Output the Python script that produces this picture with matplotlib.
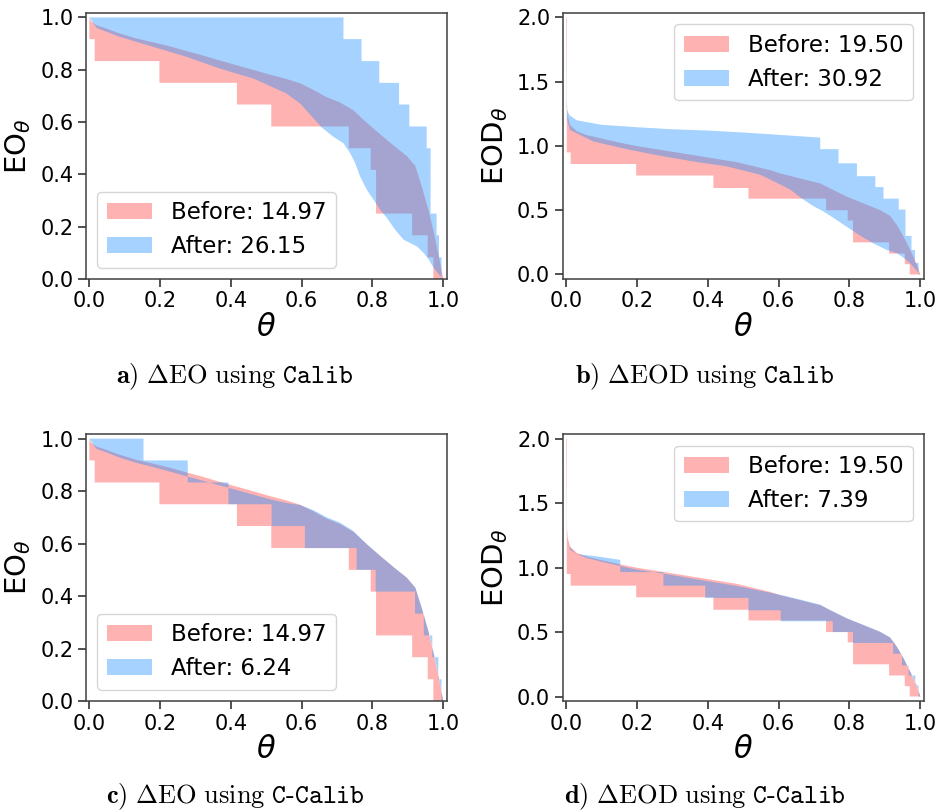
import numpy as np
import matplotlib
matplotlib.use("Agg")
import matplotlib.pyplot as plt

# ---------------- data ----------------
# EO_theta curves (shared "Before" for Calib and C-Calib)
eo_before_x = [0.0, 0.005, 0.019, 0.047, 0.085, 0.132, 0.179, 0.226, 0.273, 0.32, 0.367, 0.414,
               0.462, 0.508, 0.556, 0.596, 0.633, 0.671, 0.708, 0.746, 0.784, 0.822, 0.86,
               0.897, 0.921, 0.94, 0.959, 0.973, 0.987, 1.0]
eo_before_y = [1.0, 0.985, 0.971, 0.958, 0.939, 0.92, 0.905, 0.89, 0.872, 0.855, 0.836, 0.818,
               0.8, 0.782, 0.765, 0.748, 0.723, 0.695, 0.675, 0.645, 0.597, 0.553, 0.51,
               0.47, 0.432, 0.35, 0.26, 0.18, 0.09, 0.0]
eo_before_edges = [0.0, 0.015, 0.198, 0.417, 0.514, 0.733, 0.795, 0.81, 0.912, 0.956, 0.972, 1.0]
eo_before_levels = [0.917, 0.833, 0.75, 0.667, 0.583, 0.5, 0.417, 0.25, 0.167, 0.083, 0.0]

# Calib, EO
eo_calib_x = [0.0, 0.02, 0.085, 0.179, 0.273, 0.367, 0.462, 0.556, 0.596, 0.656, 0.689, 0.718,
              0.737, 0.751, 0.765, 0.784, 0.803, 0.822, 0.841, 0.864, 0.888, 0.907, 0.926,
              0.945, 0.959, 0.973, 0.992, 1.0]
eo_calib_y = [1.0, 0.96, 0.926, 0.888, 0.85, 0.805, 0.767, 0.71, 0.67, 0.58, 0.544, 0.519,
              0.481, 0.443, 0.392, 0.341, 0.303, 0.264, 0.233, 0.188, 0.15, 0.137, 0.124,
              0.099, 0.074, 0.042, 0.01, 0.0]
eo_calib_edges = [0.0, 0.718, 0.769, 0.819, 0.875, 0.904, 0.953, 0.964, 0.981, 0.988, 0.995, 1.0]
eo_calib_levels = [1.0, 0.917, 0.833, 0.75, 0.667, 0.583, 0.5, 0.25, 0.167, 0.083, 0.0]

# C-Calib, EO
eo_ccalib_x = [0.0, 0.019, 0.047, 0.085, 0.132, 0.179, 0.226, 0.273, 0.32, 0.367, 0.414, 0.462,
               0.508, 0.556, 0.596, 0.633, 0.671, 0.708, 0.746, 0.784, 0.822, 0.86, 0.897,
               0.921, 0.94, 0.959, 0.973, 0.987, 1.0]
eo_ccalib_y = [1.0, 0.962, 0.948, 0.928, 0.908, 0.892, 0.875, 0.857, 0.84, 0.822, 0.805, 0.787,
               0.77, 0.755, 0.747, 0.727, 0.7, 0.68, 0.648, 0.598, 0.553, 0.51, 0.47,
               0.432, 0.352, 0.262, 0.183, 0.093, 0.0]
eo_ccalib_edges = [0.0, 0.153, 0.278, 0.393, 0.515, 0.609, 0.755, 0.809, 0.92, 0.945, 0.969,
                   0.986, 0.995, 1.0]
eo_ccalib_levels = [1.0, 0.917, 0.833, 0.75, 0.667, 0.583, 0.5, 0.417, 0.333, 0.25, 0.167,
                    0.083, 0.0]

# EOD_theta curves (shared "Before")
eod_before_x = [0.0, 0.002, 0.004, 0.011, 0.03, 0.058, 0.105, 0.153, 0.2, 0.294, 0.388, 0.482,
                0.576, 0.605, 0.661, 0.718, 0.746, 0.793, 0.84, 0.887, 0.915, 0.934, 0.953,
                0.972, 0.991, 1.0]
eod_before_y = [2.0, 1.37, 1.24, 1.165, 1.115, 1.085, 1.055, 1.025, 0.999, 0.958, 0.916, 0.874,
                0.812, 0.786, 0.747, 0.708, 0.669, 0.605, 0.553, 0.5, 0.456, 0.384, 0.293,
                0.189, 0.073, 0.0]
eod_before_edges = [0.0, 0.002, 0.013, 0.198, 0.416, 0.515, 0.734, 0.795, 0.81, 0.912, 0.956,
                    0.97, 1.0]
eod_before_levels = [2.0, 0.95, 0.86, 0.77, 0.673, 0.59, 0.5, 0.42, 0.25, 0.163, 0.08, 0.0]

# Calib, EOD
eod_calib_x = [0.0, 0.002, 0.004, 0.011, 0.077, 0.171, 0.265, 0.36, 0.454, 0.548, 0.59, 0.633,
               0.661, 0.699, 0.727, 0.755, 0.793, 0.831, 0.869, 0.906, 0.934, 0.953, 0.972,
               0.991, 1.0]
eod_calib_y = [2.0, 1.3, 1.2, 1.125, 1.035, 0.975, 0.924, 0.879, 0.841, 0.776, 0.72, 0.66,
               0.6, 0.53, 0.49, 0.44, 0.37, 0.3, 0.24, 0.19, 0.165, 0.13, 0.085, 0.025, 0.0]
eod_calib_head_x = [0.0, 0.003, 0.01, 0.03, 0.1, 0.2, 0.3, 0.4, 0.5, 0.6, 0.7175]
eod_calib_head_y = [2.0, 1.28, 1.24, 1.2, 1.165, 1.146, 1.13, 1.12, 1.105, 1.087, 1.065]
eod_calib_edges = [0.7175, 0.769, 0.821, 0.873, 0.896, 0.939, 0.958, 0.975, 0.985, 0.995, 1.0]
eod_calib_levels = [0.975, 0.865, 0.765, 0.68, 0.59, 0.505, 0.3, 0.19, 0.09, 0.0]

# C-Calib, EOD
eod_ccalib_x = [0.0, 0.002, 0.004, 0.011, 0.03, 0.058, 0.105, 0.153, 0.2, 0.294, 0.388, 0.482,
                0.576, 0.605, 0.661, 0.718, 0.746, 0.793, 0.84, 0.887, 0.915, 0.934, 0.953,
                0.972, 0.991, 1.0]
eod_ccalib_y = [2.0, 1.35, 1.23, 1.155, 1.105, 1.075, 1.042, 1.012, 0.985, 0.945, 0.9, 0.858,
                0.805, 0.789, 0.752, 0.712, 0.67, 0.607, 0.555, 0.502, 0.458, 0.386, 0.296,
                0.192, 0.076, 0.0]
eod_ccalib_head_x = [0.0, 0.003, 0.011, 0.03, 0.08, 0.153]
eod_ccalib_head_y = [2.0, 1.25, 1.14, 1.105, 1.09, 1.06]
eod_ccalib_edges = [0.153, 0.275, 0.393, 0.515, 0.606, 0.753, 0.81, 0.923, 0.948, 0.967,
                    0.986, 0.995, 1.0]
eod_ccalib_levels = [0.965, 0.86, 0.765, 0.669, 0.584, 0.5, 0.415, 0.332, 0.241, 0.163,
                     0.086, 0.0]

scores_before = [14.97, 19.50, 14.97, 19.50]
scores_after = [26.15, 30.92, 6.24, 7.39]
captions = [r"$\mathbf{a)}\ \Delta\mathrm{EO\ using}\ \mathtt{Calib}$",
            r"$\mathbf{b)}\ \Delta\mathrm{EOD\ using}\ \mathtt{Calib}$",
            r"$\mathbf{c)}\ \Delta\mathrm{EO\ using}\ \mathtt{C}\text{-}\mathtt{Calib}$",
            r"$\mathbf{d)}\ \Delta\mathrm{EOD\ using}\ \mathtt{C}\text{-}\mathtt{Calib}$"]


def steps(edges, levels, head_x=(), head_y=()):
    # staircase vertices from bin edges and levels
    x = np.repeat(np.asarray(edges, float), 2)[1:-1]
    y = np.repeat(np.asarray(levels, float), 2)
    return np.r_[np.asarray(head_x, float), x], np.r_[np.asarray(head_y, float), y]


def band(ax, cx, cy, sx, sy, color, alpha, label):
    xs = np.r_[np.asarray(cx, float), sx[::-1]]
    ys = np.r_[np.asarray(cy, float), sy[::-1]]
    ax.fill(xs, ys, color=color, alpha=alpha, lw=0, label=label)


panels = [
    (eo_before_x, eo_before_y, steps(eo_before_edges, eo_before_levels),
     eo_calib_x, eo_calib_y, steps(eo_calib_edges, eo_calib_levels)),
    (eod_before_x, eod_before_y, steps(eod_before_edges, eod_before_levels),
     eod_calib_x, eod_calib_y,
     steps(eod_calib_edges, eod_calib_levels, eod_calib_head_x, eod_calib_head_y)),
    (eo_before_x, eo_before_y, steps(eo_before_edges, eo_before_levels),
     eo_ccalib_x, eo_ccalib_y, steps(eo_ccalib_edges, eo_ccalib_levels)),
    (eod_before_x, eod_before_y, steps(eod_before_edges, eod_before_levels),
     eod_ccalib_x, eod_ccalib_y,
     steps(eod_ccalib_edges, eod_ccalib_levels, eod_ccalib_head_x, eod_ccalib_head_y)),
]

rects = [[0.0915, 0.656, 0.384, 0.328], [0.5986, 0.656, 0.3844, 0.328],
         [0.0915, 0.1356, 0.384, 0.329], [0.5986, 0.1356, 0.3844, 0.329]]

fig = plt.figure(figsize=(9.4, 8.11), dpi=100)

for i, (bx, by, (sbx, sby), ax_, ay_, (sax, say)) in enumerate(panels):
    ax = fig.add_axes(rects[i])
    band(ax, bx, by, sbx, sby, "red", 0.3, f"Before: {scores_before[i]:.2f}")
    band(ax, ax_, ay_, sax, say, "dodgerblue", 0.4, f"After: {scores_after[i]:.2f}")

    eod = i % 2 == 1
    ax.set_xlim(-0.0094, 1.0104)
    ax.set_xticks(np.arange(0, 1.01, 0.2))
    if eod:
        ax.set_ylim(-0.035, 2.035)
        ax.set_yticks(np.arange(0, 2.01, 0.5))
        ax.set_ylabel(r"EOD$_\theta$", fontsize=21, labelpad=5)
        ax.legend(loc="upper right", fontsize=16.5)
    else:
        ax.set_ylim(0, 1.017)
        ax.set_yticks(np.arange(0, 1.01, 0.2))
        ax.set_ylabel(r"EO$_\theta$", fontsize=21, labelpad=5)
        ax.legend(loc="lower left", fontsize=16.5)
    ax.set_xlabel(r"$\theta$", fontsize=22, labelpad=1)
    ax.xaxis.set_major_formatter(matplotlib.ticker.FormatStrFormatter("%.1f"))
    ax.yaxis.set_major_formatter(matplotlib.ticker.FormatStrFormatter("%.1f"))
    ax.tick_params(direction="out", length=6, width=1.2, labelsize=15, color="0.2", pad=3)
    for sp in ax.spines.values():
        sp.set_linewidth(1.1)
        sp.set_color("0.25")

    cx = 0.25 if i % 2 == 0 else 0.75
    cy = 0.535 if i < 2 else 0.017
    fig.text(cx, cy, captions[i], ha="center", va="center", fontsize=19,
             math_fontfamily="cm")

fig.savefig("out.png", dpi=100)
